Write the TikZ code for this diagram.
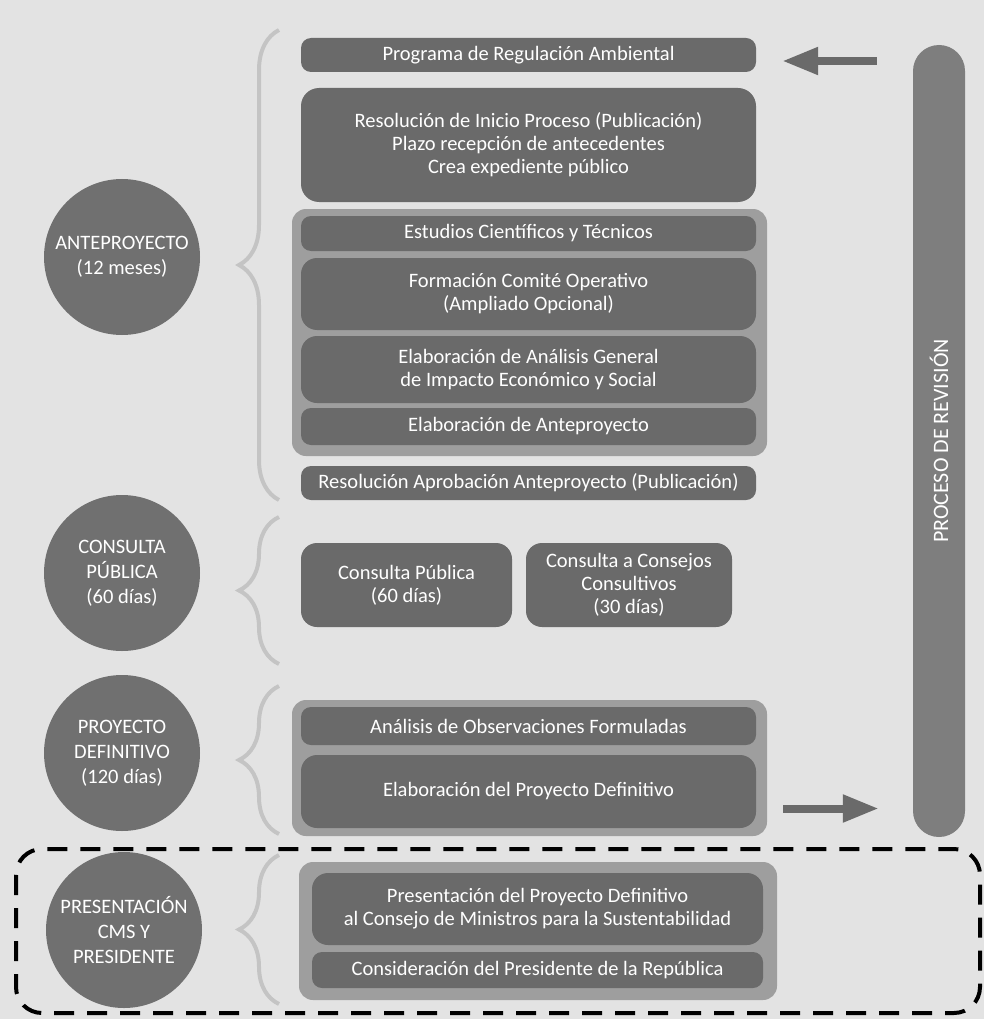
\documentclass[tikz,border=0pt]{standalone}
\usepackage{fontspec}
\setmainfont{Carlito}
\usepackage{xcolor}
\usepackage{tikz}
\usetikzlibrary{arrows.meta,decorations.pathreplacing}

\definecolor{paper}{HTML}{E3E3E3}
\definecolor{boxgray}{HTML}{6A6A6A}
\definecolor{circlegray}{HTML}{707070}
\definecolor{groupgray}{HTML}{9E9E9E}
\definecolor{bargray}{HTML}{7E7E7E}
\definecolor{bracegray}{HTML}{C4C4C4}

\begin{document}
\begin{tikzpicture}[x=1pt,y=-1pt,
    phase/.style={circle,fill=circlegray,text=white,minimum size=156pt,inner sep=0pt,align=center,font=\fontsize{20.5}{25}\selectfont},
    stepbox/.style={rounded corners=10pt,fill=boxgray,text=white,align=center,inner sep=0pt,font=\fontsize{20.5}{23}\selectfont},
    groupbox/.style={rounded corners=14pt,fill=groupgray},
    phasebrace/.style={draw=bracegray,line width=4pt,decorate,decoration={brace,amplitude=40pt}},
    revarrow/.style={draw=boxgray,line width=8pt,-{Triangle[length=36pt,width=26pt]}}]
    \fill[paper] (0,0) rectangle (984,1019);

    % phases
    \draw (122,257) node (phase0) [phase] {ANTEPROYECTO\\(12 meses)};
    \draw (122,573) node (phase1) [phase] {CONSULTA\\PÚBLICA\\(60 días)};
    \draw (122,753) node (phase2) [phase] {PROYECTO\\DEFINITIVO\\(120 días)};
    \draw (124,930) node (phase3) [phase] {PRESENTACIÓN\\CMS Y\\PRESIDENTE};

    \draw[phasebrace] (279,500) -- (279,30);
    \draw[phasebrace] (279,664) -- (279,517);
    \draw[phasebrace] (279,834) -- (279,686);
    \draw[phasebrace] (279,1004) -- (279,855);

    % groups
    \fill[groupbox] (292,209) rectangle (767,456);
    \fill[groupbox] (292,700) rectangle (767,836);
    \fill[groupbox] (299,862) rectangle (777,1000);

    \draw (528.5,55) node (step0) [stepbox,minimum width=455pt,minimum height=34pt] {Programa de Regulación Ambiental};
    \draw (528.5,145) node (step1) [stepbox,minimum width=455pt,minimum height=114pt,rounded corners=18pt] {Resolución de Inicio Proceso (Publicación)\\Plazo recepción de antecedentes\\Crea expediente público};
    \draw (528.5,233.5) node (step2) [stepbox,minimum width=455pt,minimum height=35pt] {Estudios Científicos y Técnicos};
    \draw (528.5,294) node (step3) [stepbox,minimum width=455pt,minimum height=72pt,rounded corners=16pt] {Formación Comité Operativo\\(Ampliado Opcional)};
    \draw (528.5,369.5) node (step4) [stepbox,minimum width=455pt,minimum height=67pt,rounded corners=16pt] {Elaboración de Análisis General\\de Impacto Económico y Social};
    \draw (528.5,426.5) node (step5) [stepbox,minimum width=455pt,minimum height=37pt] {Elaboración de Anteproyecto};
    \draw (528.5,483) node (step6) [stepbox,minimum width=455pt,minimum height=34pt] {Resolución Aprobación Anteproyecto (Publicación)};
    \draw (406.5,585) node (step7) [stepbox,minimum width=211pt,minimum height=84pt,rounded corners=16pt] {Consulta Pública\\(60 días)};
    \draw (629,585) node (step8) [stepbox,minimum width=206pt,minimum height=84pt,rounded corners=16pt] {Consulta a Consejos\\Consultivos\\(30 días)};
    \draw (528.5,726) node (step9) [stepbox,minimum width=455pt,minimum height=38pt] {Análisis de Observaciones Formuladas};
    \draw (528.5,791.5) node (step10) [stepbox,minimum width=455pt,minimum height=73pt,rounded corners=16pt] {Elaboración del Proyecto Definitivo};
    \draw (537.5,909) node (step11) [stepbox,minimum width=451pt,minimum height=72pt,rounded corners=16pt] {Presentación del Proyecto Definitivo\\al Consejo de Ministros para la Sustentabilidad};
    \draw (537.5,970) node (step12) [stepbox,minimum width=451pt,minimum height=36pt] {Consideración del Presidente de la República};

    % revision bar
    \draw (939,441) node (review) [rotate=90,fill=bargray,text=white,minimum width=792pt,minimum height=52pt,rounded corners=26pt,inner sep=0pt,font=\fontsize{22}{24}\selectfont] {PROCESO DE REVISIÓN};

    \draw[revarrow,shorten <=36pt,shorten >=26pt] ([yshift=-6pt]review.north |- step0.east) -- ([yshift=-6pt]step0.east);
    \draw[revarrow,shorten <=27pt,shorten >=34pt] ([yshift=-17pt]step10.east) -- ([yshift=-17pt]review.north |- step10.east);

    \draw[line width=4pt,dash pattern=on 20pt off 13pt,rounded corners=26pt] (16,849) rectangle (980,1013);
\end{tikzpicture}
\end{document}
